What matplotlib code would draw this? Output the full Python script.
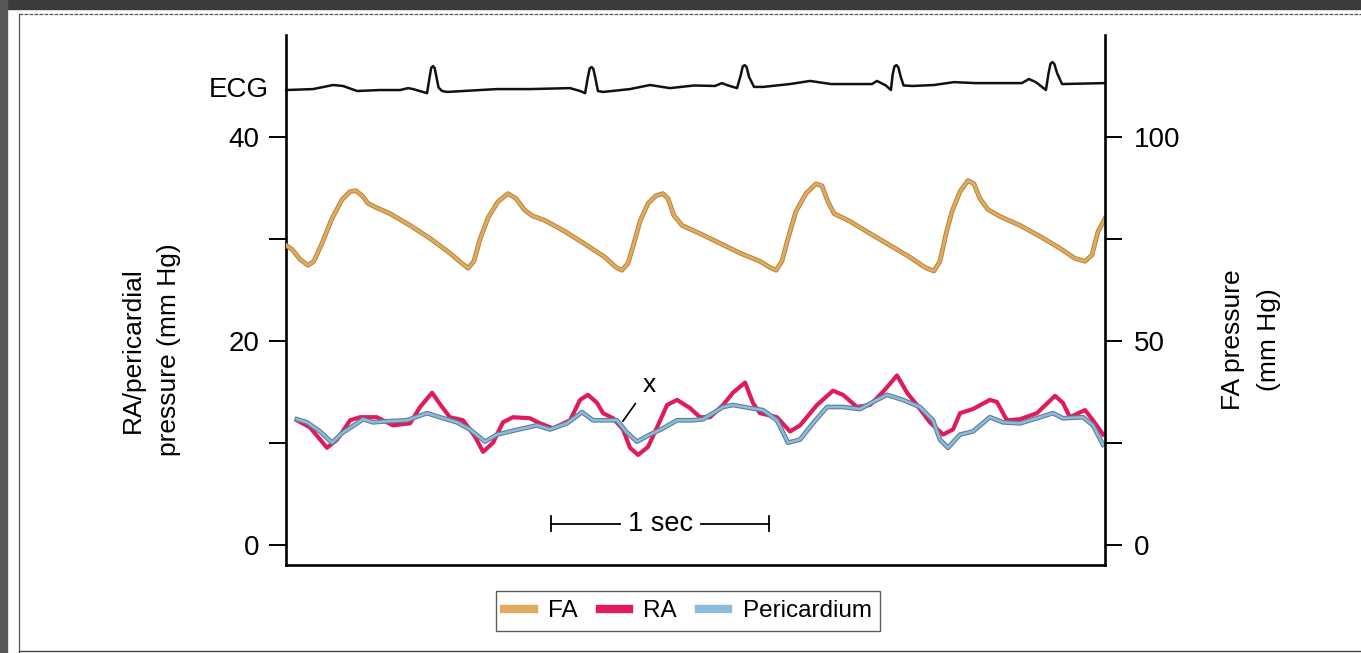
import matplotlib.pyplot as plt
from matplotlib.lines import Line2D
from matplotlib.patches import Rectangle

plt.rcParams['font.family'] = ['Liberation Sans', 'DejaVu Sans']

# femoral artery pressure (right axis, mm Hg) vs time (s)
fa_time = [0.000, 0.028, 0.064, 0.101, 0.128, 0.165, 0.211, 0.257, 0.294, 0.321,
           0.349, 0.376, 0.413, 0.477, 0.569, 0.661, 0.752, 0.807, 0.835, 0.862,
           0.890, 0.927, 0.972, 1.018, 1.055, 1.092, 1.128, 1.188, 1.280, 1.372,
           1.463, 1.514, 1.541, 1.569, 1.596, 1.624, 1.661, 1.697, 1.729, 1.752,
           1.780, 1.817, 1.899, 1.991, 2.083, 2.174, 2.220, 2.248, 2.275, 2.303,
           2.339, 2.385, 2.431, 2.459, 2.486, 2.514, 2.587, 2.679, 2.771, 2.862,
           2.931, 2.972, 3.000, 3.028, 3.055, 3.092, 3.128, 3.156, 3.183, 3.220,
           3.275, 3.367, 3.459, 3.550, 3.619, 3.665, 3.697, 3.725, 3.757]
fa_pressure = [73.4, 72.4, 70.0, 68.5, 69.5, 73.9, 80.0, 84.6, 86.6, 86.8,
               85.6, 83.7, 82.7, 81.2, 78.3, 75.1, 71.5, 69.0, 67.8, 69.5,
               74.9, 80.2, 84.1, 86.1, 84.9, 82.2, 80.7, 79.5, 76.8, 73.7,
               70.5, 68.0, 67.3, 69.0, 73.9, 79.3, 83.7, 85.6, 86.1, 84.9,
               80.7, 78.3, 76.3, 73.9, 71.5, 69.5, 68.0, 67.3, 69.5, 75.1,
               81.7, 86.1, 88.5, 88.0, 84.1, 81.2, 79.3, 76.3, 73.4, 70.5,
               68.0, 67.1, 69.5, 76.3, 81.7, 86.6, 89.3, 88.5, 84.9, 82.2,
               80.5, 78.3, 75.6, 72.7, 70.2, 69.5, 71.0, 76.8, 80.0]

# right atrial pressure (left axis, mm Hg)
ra_time = [0.050, 0.110, 0.188, 0.234, 0.294, 0.339, 0.417, 0.491, 0.569, 0.615,
           0.670, 0.716, 0.752, 0.812, 0.867, 0.904, 0.950, 0.995, 1.041, 1.119,
           1.165, 1.225, 1.303, 1.349, 1.385, 1.427, 1.454, 1.500, 1.546, 1.578,
           1.615, 1.661, 1.702, 1.748, 1.794, 1.853, 1.899, 1.945, 2.005, 2.050,
           2.106, 2.142, 2.174, 2.252, 2.312, 2.358, 2.436, 2.509, 2.555, 2.619,
           2.679, 2.739, 2.803, 2.849, 2.894, 2.954, 3.014, 3.060, 3.092, 3.151,
           3.229, 3.261, 3.307, 3.367, 3.445, 3.528, 3.564, 3.596, 3.665, 3.702,
           3.748]
ra_pressure = [12.2, 11.5, 9.5, 10.3, 12.2, 12.5, 12.5, 11.7, 11.9, 13.5,
               14.9, 13.5, 12.5, 12.2, 10.6, 9.1, 10.0, 12.0, 12.5, 12.4,
               11.9, 11.4, 12.2, 14.2, 14.7, 13.9, 12.9, 12.4, 11.3, 9.5,
               8.8, 9.6, 11.5, 13.7, 14.2, 13.4, 12.5, 12.5, 13.7, 14.9,
               15.9, 13.9, 12.9, 12.5, 11.1, 11.7, 13.7, 15.1, 14.7, 13.5,
               13.7, 15.0, 16.6, 14.9, 13.7, 12.0, 10.8, 11.3, 12.9, 13.3,
               14.2, 14.0, 12.2, 12.3, 12.9, 14.6, 13.9, 12.5, 13.2, 12.2,
               10.8]

# pericardial pressure (left axis, mm Hg)
peri_time = [0.050, 0.096, 0.156, 0.211, 0.261, 0.326, 0.353, 0.399, 0.463, 0.555,
             0.647, 0.706, 0.784, 0.844, 0.913, 0.968, 1.028, 1.087, 1.151, 1.211,
             1.289, 1.358, 1.408, 1.472, 1.518, 1.564, 1.610, 1.670, 1.729, 1.794,
             1.867, 1.913, 2.005, 2.050, 2.128, 2.188, 2.252, 2.303, 2.358, 2.417,
             2.482, 2.555, 2.633, 2.693, 2.757, 2.830, 2.908, 2.968, 3.000, 3.037,
             3.092, 3.151, 3.229, 3.289, 3.367, 3.445, 3.518, 3.564, 3.656, 3.702,
             3.748]
peri_pressure = [12.3, 12.0, 11.1, 10.0, 11.0, 11.9, 12.3, 12.0, 12.1, 12.2,
                 12.9, 12.5, 12.0, 11.3, 10.1, 10.8, 11.1, 11.4, 11.7, 11.3,
                 11.9, 13.0, 12.2, 12.2, 12.2, 11.0, 10.1, 10.8, 11.4, 12.2,
                 12.2, 12.3, 13.5, 13.7, 13.4, 13.2, 12.2, 10.0, 10.3, 11.9,
                 13.5, 13.5, 13.3, 14.0, 14.7, 14.2, 13.5, 12.2, 10.3, 9.5,
                 10.8, 11.1, 12.5, 12.0, 11.9, 12.4, 12.9, 12.4, 12.5, 11.7,
                 9.8]

# ECG trace (mV, relative to baseline)
ecg_time = [0.000, 0.124, 0.216, 0.261, 0.326, 0.431, 0.523, 0.560, 0.583, 0.647,
            0.659, 0.666, 0.674, 0.682, 0.690, 0.700, 0.716, 0.739, 0.890, 0.968,
            1.119, 1.303, 1.349, 1.372, 1.384, 1.393, 1.402, 1.410, 1.419, 1.431,
            1.454, 1.578, 1.670, 1.761, 1.872, 1.968, 2.000, 2.028, 2.069, 2.086,
            2.095, 2.104, 2.113, 2.124, 2.147, 2.188, 2.312, 2.404, 2.500, 2.688,
            2.711, 2.752, 2.775, 2.783, 2.791, 2.800, 2.809, 2.820, 2.833, 2.876,
            2.972, 3.064, 3.161, 3.376, 3.408, 3.440, 3.486, 3.498, 3.507, 3.516,
            3.525, 3.537, 3.560, 3.757]
ecg_mv = [0.00, 0.04, 0.21, 0.17, -0.04, 0.00, 0.00, 0.08, 0.04, -0.13,
          0.55, 0.92, 1.00, 0.92, 0.55, 0.10, -0.04, -0.08, 0.00, 0.04,
          0.04, 0.08, -0.04, -0.13, 0.50, 0.90, 0.96, 0.88, 0.50, -0.04,
          -0.08, 0.04, 0.21, 0.08, 0.19, 0.17, 0.29, 0.19, 0.08, 0.62,
          0.98, 1.04, 0.96, 0.55, 0.13, 0.13, 0.25, 0.38, 0.25, 0.25,
          0.38, 0.19, 0.00, 0.65, 0.98, 1.04, 0.95, 0.55, 0.19, 0.17,
          0.21, 0.33, 0.29, 0.29, 0.46, 0.33, 0.00, 0.70, 1.10, 1.17,
          1.08, 0.71, 0.25, 0.29]

left_ticks = [0, 10, 20, 30, 40]
left_labels = ['0', '', '20', '', '40']
right_ticks = [0, 25, 50, 75, 100]
right_labels = ['0', '', '50', '', '100']

FA_COLOR, FA_EDGE = '#e0ab5e', '#b5843f'
RA_COLOR = '#e11a5c'
PERI_COLOR, PERI_EDGE = '#8dbbdc', '#5d7f99'

ECG_BASE = 44.6
ECG_GAIN = 2.35

fig = plt.figure(figsize=(13.61, 6.53), dpi=100)
fig.patch.set_facecolor('white')

# scanned page edges
fig.add_artist(Rectangle((0, 1 - 9 / 653), 1, 9 / 653, transform=fig.transFigure,
                         color='#3b3b3b', zorder=0))
fig.add_artist(Rectangle((0, 0), 7 / 1361, 1, transform=fig.transFigure,
                         color='#575757', zorder=0))
fig.add_artist(Line2D([19 / 1361, 1], [1 - 14 / 653, 1 - 14 / 653],
                      transform=fig.transFigure, color='#555555', lw=0.9, ls=(0, (3, 1))))
fig.add_artist(Line2D([19 / 1361, 19 / 1361], [1 - 652 / 653, 1 - 14 / 653],
                      transform=fig.transFigure, color='#555555', lw=0.9))
fig.add_artist(Line2D([19 / 1361, 1], [1 - 651 / 653, 1 - 651 / 653],
                      transform=fig.transFigure, color='#444444', lw=1.0))

ax = fig.add_axes([286 / 1361, 1 - 565 / 653, (1105 - 286) / 1361, 530 / 653])
ax2 = ax.twinx()

ax.set_xlim(0, 3.757)
ax.set_ylim(-2, 50)
ax2.set_ylim(-5, 125)
ax.set_xticks([])

for a in (ax, ax2):
    a.spines['top'].set_visible(False)
    for s in a.spines.values():
        s.set_linewidth(1.9)
ax.spines['right'].set_visible(False)
ax2.spines['left'].set_visible(False)
ax2.spines['bottom'].set_visible(False)

ax.set_yticks(left_ticks, labels=left_labels)
ax2.set_yticks(right_ticks, labels=right_labels)
ax.tick_params(axis='y', direction='out', length=12, width=1.4, labelsize=20, pad=7)
ax2.tick_params(axis='y', direction='out', length=12, width=1.4, labelsize=20, pad=9)

# ECG
ecg_y = [ECG_BASE + v * ECG_GAIN for v in ecg_mv]
ax.plot(ecg_time, ecg_y, color='#111111', lw=1.8, solid_joinstyle='round',
        solid_capstyle='round', clip_on=False)
ax.text(-0.08, ECG_BASE, 'ECG', fontsize=20, ha='right', va='center')

# RA and pericardium
ax.plot(ra_time, ra_pressure, color=RA_COLOR, lw=3.0, solid_joinstyle='round', zorder=3)
ax.plot(peri_time, peri_pressure, color=PERI_EDGE, lw=3.4, solid_joinstyle='round', zorder=4)
ax.plot(peri_time, peri_pressure, color=PERI_COLOR, lw=1.8, solid_joinstyle='round', zorder=5)

# FA on right axis
ax2.plot(fa_time, fa_pressure, color=FA_EDGE, lw=3.4, solid_joinstyle='round')
ax2.plot(fa_time, fa_pressure, color=FA_COLOR, lw=2.0, solid_joinstyle='round')

# x marker
ax.annotate('x', xy=(1.545, 12.1), xytext=(1.665, 15.7), fontsize=19, ha='center', va='center',
            arrowprops=dict(arrowstyle='-', color='black', lw=1.2, shrinkA=5, shrinkB=0))

# 1 sec scale bar
ax.plot([1.216, 1.53], [2.05, 2.05], color='black', lw=1.3)
ax.plot([1.905, 2.216], [2.05, 2.05], color='black', lw=1.3)
ax.plot([1.216, 1.216], [1.3, 2.8], color='black', lw=1.3)
ax.plot([2.216, 2.216], [1.3, 2.8], color='black', lw=1.3)
ax.text(1.716, 2.05, '1 sec', fontsize=19.5, ha='center', va='center')

# axis labels
fig.text(151 / 1361, 1 - 350 / 653, 'RA/pericardial\npressure (mm Hg)', rotation=90,
         fontsize=19, ha='center', va='center', multialignment='center', linespacing=1.65)
fig.text(1251 / 1361, 1 - 340 / 653, 'FA pressure\n(mm Hg)', rotation=90,
         fontsize=19, ha='center', va='center', multialignment='center', linespacing=1.62)

handles = [Line2D([], [], color=FA_COLOR, lw=6),
           Line2D([], [], color=RA_COLOR, lw=6),
           Line2D([], [], color=PERI_COLOR, lw=6)]
leg = fig.legend(handles, ['FA', 'RA', 'Pericardium'], loc='center',
                 bbox_to_anchor=(688 / 1361, 1 - 611 / 653), ncol=3, fontsize=17.5,
                 frameon=True, fancybox=False, edgecolor='#333333', handlelength=1.2,
                 handletextpad=0.6, columnspacing=0.9, borderpad=0.35)
leg.get_frame().set_linewidth(1.0)

fig.savefig('out.png', dpi=100, facecolor='white')
